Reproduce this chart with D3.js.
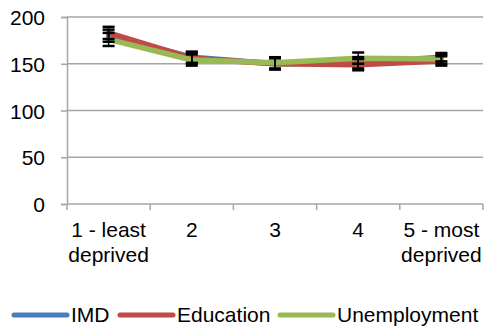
<!DOCTYPE html>
<html><head><meta charset="utf-8">
<script src="https://cdn.jsdelivr.net/npm/d3@7/dist/d3.min.js"></script>
<style>body{margin:0;background:#fff}svg{display:block}text{font-family:"Liberation Sans",Arial,sans-serif;fill:#000}</style>
</head><body><svg id="c" width="488" height="327"></svg>
<script>
const categories = [["1 - least","deprived"],["2"],["3"],["4"],["5 - most","deprived"]];
const seriesNames = ["IMD","Education","Unemployment"];
const seriesColors = ["#4a7ebb","#be4b48","#98b954"];
const imdValues = [180, 157, 150, 151, 157];
const imdErrors = [6.5, 6, 6, 6, 4.5];
const educationValues = [183, 156, 150, 149, 153];
const educationErrors = [6.5, 6, 6, 6, 5];
const unemploymentValues = [176, 154, 151, 156, 155];
const unemploymentErrors = [7, 6, 6, 6, 5];
const yTicks = [0, 50, 100, 150, 200];

const series = [
  {name: seriesNames[0], color: seriesColors[0], values: imdValues, errors: imdErrors},
  {name: seriesNames[1], color: seriesColors[1], values: educationValues, errors: educationErrors},
  {name: seriesNames[2], color: seriesColors[2], values: unemploymentValues, errors: unemploymentErrors}
];

const svg = d3.select("#c");
const mLeft = 67, mRight = 483, mTop = 17, mBottom = 204;
const FS = 21;
const x = d3.scaleBand().domain(d3.range(categories.length)).range([mLeft, mRight]);
const y = d3.scaleLinear().domain([0, 200]).range([mBottom, mTop]);
const grid = "#a6a6a6";

svg.append("g").selectAll("line").data(yTicks.filter(t => t > 0)).join("line")
  .attr("x1", mLeft).attr("x2", mRight).attr("y1", d => y(d)).attr("y2", d => y(d))
  .attr("stroke", grid).attr("stroke-width", 1.5);

const ya = svg.append("g").attr("transform", `translate(${mLeft},0)`)
  .call(d3.axisLeft(y).tickValues(yTicks).tickSize(6).tickPadding(16));
ya.select(".domain").attr("stroke", grid).attr("stroke-width", 1.5);
ya.selectAll(".tick line").attr("stroke", grid).attr("stroke-width", 1.5);
ya.selectAll(".tick text").attr("font-size", FS).attr("font-family", "Liberation Sans, Arial").attr("fill", "#000").attr("dy", "0.36em");

const xa = svg.append("g").attr("transform", `translate(0,${mBottom})`);
xa.append("line").attr("x1", mLeft).attr("x2", mRight).attr("stroke", grid).attr("stroke-width", 1.5);
const bounds = d3.range(categories.length + 1).map(i => i < categories.length ? x(i) : x(categories.length - 1) + x.bandwidth());
xa.selectAll("line.tk").data(bounds).join("line").attr("class", "tk")
  .attr("x1", d => d).attr("x2", d => d).attr("y1", 0).attr("y2", 6)
  .attr("stroke", grid).attr("stroke-width", 1.5);
const xl = xa.selectAll("text").data(categories).join("text")
  .attr("x", (d, i) => x(i) + x.bandwidth() / 2).attr("y", 33)
  .attr("text-anchor", "middle").attr("font-size", FS);
xl.each(function(d) {
  const t = d3.select(this);
  d.forEach((s, j) => t.append("tspan").attr("x", t.attr("x")).attr("dy", j === 0 ? 0 : 25).text(s));
});

const cx = i => x(i) + x.bandwidth() / 2;
const line = d3.line().x((d, i) => cx(i)).y(d => y(d));

series.forEach(s => {
  svg.append("path").datum(s.values).attr("d", line)
    .attr("fill", "none").attr("stroke", s.color).attr("stroke-width", 5.5)
    .attr("stroke-linejoin", "round").attr("stroke-linecap", "round");
});
series.forEach(s => {
  const g = svg.append("g");
  s.values.forEach((v, i) => {
    const hi = y(v + s.errors[i]), lo = y(v - s.errors[i]);
    g.append("line").attr("x1", cx(i)).attr("x2", cx(i)).attr("y1", hi).attr("y2", lo).attr("stroke", "#000").attr("stroke-width", 1.5);
    [hi, lo].forEach(yy => g.append("line").attr("x1", cx(i) - 6).attr("x2", cx(i) + 6).attr("y1", yy).attr("y2", yy).attr("stroke", "#000").attr("stroke-width", 2.5));
  });
});

const legX = [14, 120, 280];
const lg = svg.append("g");
series.forEach((s, i) => {
  lg.append("line").attr("x1", legX[i]).attr("x2", legX[i] + 53).attr("y1", 315).attr("y2", 315)
    .attr("stroke", s.color).attr("stroke-width", 5).attr("stroke-linecap", "round");
  lg.append("text").attr("x", legX[i] + 57).attr("y", 322).attr("font-size", FS).text(s.name);
});
</script></body></html>
